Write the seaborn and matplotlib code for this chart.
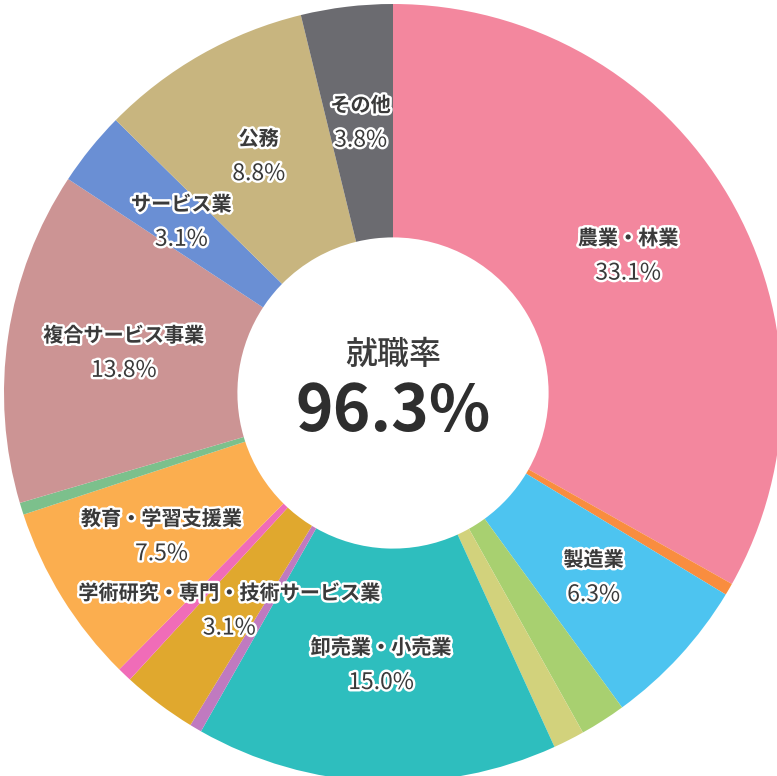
import numpy as np
import matplotlib
matplotlib.use("Agg")
import matplotlib.pyplot as plt
import matplotlib.patheffects as pe
import seaborn as sns

# ---- data (clockwise from 12 o'clock) ----
categories = ["農業・林業", "", "製造業", "", "", "卸売業・小売業", "",
              "学術研究・専門・技術サービス業", "", "教育・学習支援業", "",
              "複合サービス事業", "サービス業", "公務", "その他"]
values = [33.1, 0.5, 6.3, 1.9, 1.3, 15.0, 0.5, 3.1, 0.6, 7.5, 0.5,
          13.8, 3.1, 8.8, 3.8]
colors = ["#F3879E", "#F98D3F", "#4DC4F0", "#A8D070", "#D2D27C", "#2EBEBE",
          "#C07AC0", "#E0A82E", "#F06CB8", "#FBAE4F", "#7CC08C",
          "#CC9494", "#6A8FD4", "#C8B57F", "#6B6B70"]
center_title = "就職率"
center_value = "96.3%"

sns.set_theme(style="white")
plt.rcParams["font.family"] = ["Noto Sans CJK JP", "DejaVu Sans"]

W, H, DPI = 777, 776, 100
fig = plt.figure(figsize=(W / DPI, H / DPI), dpi=DPI)
ax = fig.add_axes([0, 0, 1, 1])

R_px = 389.0
cx, cy = 393.0, 393.0  # pixel centre (from top-left)

inner = 0.40
wedges, _ = ax.pie(values, colors=colors, startangle=90, counterclock=False,
                   radius=1.0, wedgeprops=dict(width=1 - inner, linewidth=0))
ax.set_xlim(-cx / R_px, (W - cx) / R_px)
ax.set_ylim(-(H - cy) / R_px, cy / R_px)
ax.set_aspect("equal")
ax.axis("off")

stroke = [pe.withStroke(linewidth=3.5, foreground="white")]
lab_r = 0.70
for w, name, v in zip(wedges, categories, values):
    if not name:
        continue
    ang = np.deg2rad((w.theta1 + w.theta2) / 2)
    x, y = lab_r * np.cos(ang), lab_r * np.sin(ang)
    ax.text(x, y + 0.045, name, ha="center", va="center", fontsize=14.5,
            fontweight="bold", color="#3A3A3A", path_effects=stroke)
    ax.text(x, y - 0.045, f"{v:.1f}%", ha="center", va="center", fontsize=16.5,
            color="#3A3A3A", path_effects=stroke)

ax.text(0, 0.097, center_title, ha="center", va="center", fontsize=23,
        color="#3C3C3C", fontweight="medium")
ax.text(0, -0.05, center_value, ha="center", va="center", fontsize=46,
        color="#2E2E2E", fontweight="bold")

fig.savefig("out.png", dpi=DPI, facecolor="white")
